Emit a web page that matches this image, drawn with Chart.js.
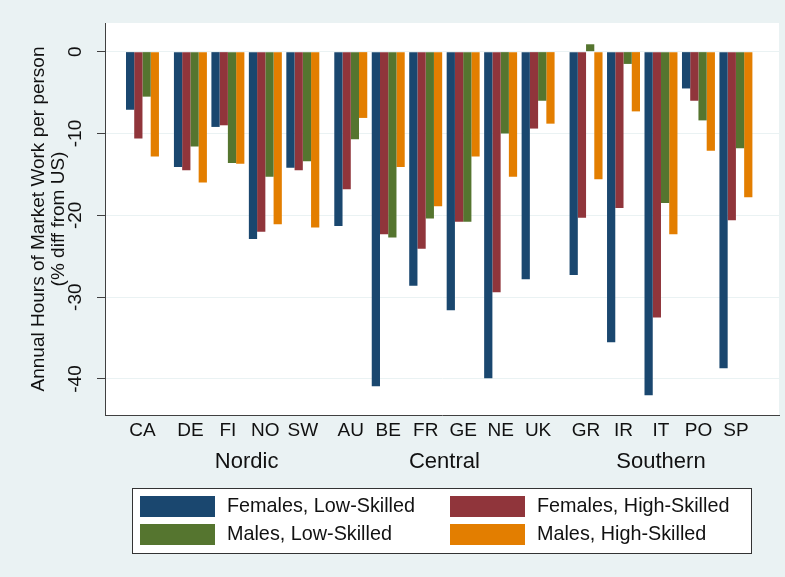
<!DOCTYPE html>
<html>
<head>
<meta charset="utf-8">
<title>Annual Hours of Market Work per person</title>
<script src="https://cdn.jsdelivr.net/npm/chart.js@4.4.1/dist/chart.umd.min.js"></script>
<style>
  html, body { margin: 0; padding: 0; background: #eaf2f3; }
  #chart-wrap { width: 785px; height: 577px; }
</style>
</head>
<body>
<div id="chart-wrap"><canvas id="hoursChart" width="785" height="577"></canvas></div>
<script>
// values, % difference from US
const countries = ['CA', 'DE', 'FI', 'NO', 'SW', 'AU', 'BE', 'FR', 'GE', 'NE', 'UK', 'GR', 'IR', 'IT', 'PO', 'SP'];
const regions = ['', 'Nordic', 'Central', 'Southern'];
const countryRegion = [0, 1, 1, 1, 1, 2, 2, 2, 2, 2, 2, 3, 3, 3, 3, 3];

const femalesLow  = [-7.1, -14.1, -9.2, -22.9, -14.2, -21.3, -40.9, -28.6, -31.6, -39.9, -27.8, -27.3, -35.5, -42.0, -4.5, -38.7];
const femalesHigh = [-10.6, -14.5, -9.0, -22.0, -14.5, -16.8, -22.3, -24.1, -20.8, -29.4, -9.4, -20.3, -19.1, -32.5, -6.0, -20.6];
const malesLow    = [-5.5, -11.6, -13.6, -15.3, -13.4, -10.7, -22.7, -20.4, -20.8, -10.0, -6.0, 0.9, -1.5, -18.5, -8.4, -11.8];
const malesHigh   = [-12.8, -16.0, -13.7, -21.1, -21.5, -8.1, -14.1, -18.9, -12.8, -15.3, -8.8, -15.6, -7.3, -22.3, -12.1, -17.8];

const seriesLabels = ['Females, Low-Skilled', 'Females, High-Skilled', 'Males, Low-Skilled', 'Males, High-Skilled'];
const yTicks = [0, -10, -20, -30, -40];

const FONT = '"Liberation Sans", Arial, Helvetica, sans-serif';
const colors = ['#1a476f', '#90353b', '#55752f', '#e37e00'];
const REGION_GAP = 0.28; // extra space between region groups, in bar-group units

Chart.defaults.font.family = FONT;
Chart.defaults.color = '#111';

// x position of every country group: one unit per country plus a gap per region
const xPos = countries.map((c, i) => i + countryRegion[i] * REGION_GAP);

const seriesValues = [femalesLow, femalesHigh, malesLow, malesHigh];

const stataExtras = {
  id: 'stataExtras',
  beforeDraw(chart) {
    const { ctx, chartArea } = chart;
    ctx.save();
    ctx.fillStyle = '#ffffff';
    ctx.fillRect(chartArea.left, chartArea.top, chartArea.right - chartArea.left, chartArea.bottom - chartArea.top);
    ctx.restore();
  },
  afterDraw(chart) {
    const { ctx } = chart;
    const x = chart.scales.x;
    const y = chart.scales.y;
    ctx.save();
    ctx.fillStyle = '#111';
    ctx.textAlign = 'center';
    ctx.textBaseline = 'middle';

    // vertical y tick labels
    ctx.font = '19px ' + FONT;
    yTicks.forEach((v) => {
      ctx.save();
      ctx.translate(76, y.getPixelForValue(v));
      ctx.rotate(-Math.PI / 2);
      ctx.fillText(String(v), 0, 0);
      ctx.restore();
    });

    // region names centred under their countries
    ctx.font = '22px ' + FONT;
    regions.forEach((name, r) => {
      if (!name) return;
      const idx = countryRegion.map((g, i) => (g === r ? i : -1)).filter((i) => i >= 0);
      const mid = (xPos[idx[0]] + xPos[idx[idx.length - 1]]) / 2;
      ctx.fillText(name, x.getPixelForValue(mid), 462);
    });

    // boxed legend, two columns
    ctx.fillStyle = '#ffffff';
    ctx.fillRect(132, 488, 619, 65);
    ctx.strokeStyle = '#333';
    ctx.lineWidth = 1;
    ctx.strokeRect(132.5, 488.5, 619, 65);
    ctx.font = '19.8px ' + FONT;
    ctx.textAlign = 'left';
    chart.data.datasets.forEach((ds, k) => {
      const col = k % 2;
      const row = Math.floor(k / 2);
      const sx = col === 0 ? 140 : 450;
      const sy = row === 0 ? 496 : 524;
      ctx.fillStyle = ds.backgroundColor;
      ctx.fillRect(sx, sy, 75, 21);
      ctx.fillStyle = '#111';
      ctx.fillText(ds.label, sx + 87, sy + 11);
    });
    ctx.restore();
  }
};

new Chart(document.getElementById('hoursChart'), {
  type: 'bar',
  data: {
    datasets: seriesValues.map((vals, k) => ({
      label: seriesLabels[k],
      data: vals.map((v, i) => ({ x: xPos[i], y: v })),
      backgroundColor: colors[k],
      borderWidth: 0,
      categoryPercentage: 0.88,
      barPercentage: 1.0,
    })),
  },
  options: {
    responsive: false,
    animation: false,
    layout: { padding: { top: 23, right: 6, left: 0, bottom: 0 } },
    plugins: {
      legend: { display: false },
      tooltip: { enabled: false },
    },
    scales: {
      x: {
        type: 'linear',
        offset: false,
        min: -1,
        max: xPos[xPos.length - 1] + 1.15,
        afterBuildTicks: (s) => { s.ticks = xPos.map((v) => ({ value: v })); },
        afterFit: (s) => { s.height = 162; },
        grid: { display: false, drawTicks: false },
        border: { display: true, color: '#404040', width: 1 },
        ticks: {
          autoSkip: false,
          maxRotation: 0,
          padding: 4,
          color: '#111',
          font: { size: 19 },
          callback: (value, index) => countries[index],
        },
      },
      y: {
        min: -44.4,
        max: 3.5,
        afterBuildTicks: (s) => { s.ticks = yTicks.map((v) => ({ value: v })); },
        afterFit: (s) => { s.width = 105; },
        grid: { color: '#eaf2f3', lineWidth: 1, drawTicks: true, tickLength: 8, tickColor: '#404040' },
        border: { display: true, color: '#404040', width: 1 },
        ticks: { display: false },
        title: {
          display: true,
          text: ['Annual Hours of Market Work per person', '(% diff from US)'],
          color: '#111',
          font: { size: 19, lineHeight: '20px' },
          padding: { top: 29, bottom: 0 },
        },
      },
    },
  },
  plugins: [stataExtras],
});
</script>
</body>
</html>
